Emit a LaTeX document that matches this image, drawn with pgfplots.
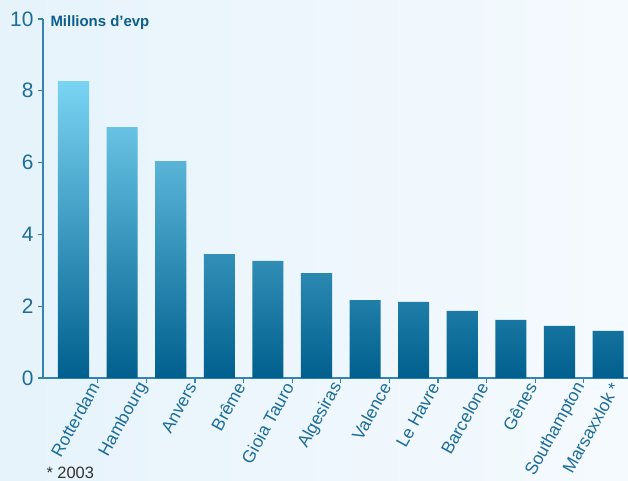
\documentclass[border=0pt]{standalone}
\usepackage{pgfplots}
\pgfplotsset{compat=1.18}
\usepackage{fontspec}
\setmainfont{Liberation Sans}
\definecolor{bgA}{HTML}{E6F3FB}
\definecolor{bgB}{HTML}{F5FAFE}
\definecolor{barBot}{HTML}{005F8D}
\definecolor{barMid}{HTML}{0899C6}
\definecolor{barTop}{HTML}{7AD4F3}
\definecolor{axcol}{HTML}{3584B0}
\definecolor{txtcol}{HTML}{1C6D99}
\definecolor{titcol}{HTML}{0E5E8C}
\begin{document}
\begin{tikzpicture}
\useasboundingbox (0,0) rectangle (628bp,481bp);
\shade[left color=bgA, right color=bgB] (0,0) rectangle (628bp,481bp);
\begin{axis}[
  at={(43bp,103bp)}, anchor=south west,
  scale only axis, width=585bp, height=359bp,
  ybar, bar width=0.64,
  xmin=-0.628, xmax=11.41, ymin=0, ymax=10,
  axis x line=bottom, axis y line=left,
  axis line style={-, draw=axcol, line width=1.6bp},
  tick align=outside, major tick length=5bp,
  tick style={draw=axcol, line width=1.2bp},
  ytick={0,2,4,6,8,10},
  yticklabel style={font=\fontsize{21}{23}\selectfont, color=txtcol, xshift=-1bp},
  /pgf/number format/assume math mode=true,
  xtick={0.5,1.5,...,10.5}, xticklabels={},
  extra x ticks={0,1,2,3,4,5,6,7,8,9,10,11},
  extra x tick labels={Rotterdam,Hambourg,Anvers,Brême,Gioia Tauro,Algesiras,Valence,Le Havre,Barcelone,Gênes,Southampton,Marsaxxlok *},
  extra x tick style={major tick length=0pt,
    xticklabel style={font=\fontsize{17.5}{19}\selectfont, color=txtcol,
      xshift={ifthenelse(\ticknum==11,9,23)*1bp}, yshift=-3bp, rotate=61, anchor=east}},
  clip=false,
]
\addplot[draw=none, bottom color=barBot, middle color=barMid, top color=barTop]
  coordinates {(0,8.27) (1,6.99) (2,6.04) (3,3.45) (4,3.26) (5,2.92) (6,2.17) (7,2.12) (8,1.87) (9,1.62) (10,1.45) (11,1.31)};
\end{axis}
\node[anchor=west, font=\bfseries\fontsize{15}{17}\selectfont, color=titcol] at (47bp,458bp) {Millions d’evp};
\node[anchor=west, font=\fontsize{16.5}{18}\selectfont, color=black!80] at (43bp,8bp) {* 2003};
\end{tikzpicture}
\end{document}
